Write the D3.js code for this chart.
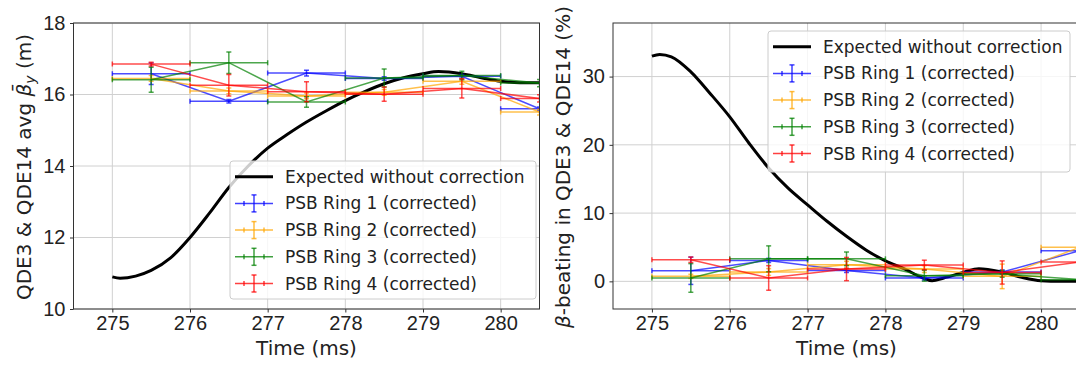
<!DOCTYPE html>
<html>
<head>
<meta charset="utf-8">
<script src="https://cdn.jsdelivr.net/npm/d3@7/dist/d3.min.js"></script>
<style>
  body { margin: 0; background: #fff; }
  svg { display: block; font-family: 'DejaVu Sans', sans-serif; }
  .axis text { font-size: 20px; fill: #222; }
  .axis line { stroke: #333; }
  .grid line { stroke: #d0d0d0; stroke-width: 1; }
  .frame { fill: none; stroke: #333; stroke-width: 1; }
  .label { font-size: 20px; fill: #222; }
  .legend text { font-size: 17px; fill: #222; }
</style>
</head>
<body>
<svg id="chart" width="1076" height="365"></svg>
<script>
// measurement bins (centre of each 1 ms window)
const timeCenters = [275.5, 276.5, 277.5, 278.5, 279.5, 280.5];
const timeHalfWidth = 0.5;

const ringNames = ['PSB Ring 1 (corrected)', 'PSB Ring 2 (corrected)', 'PSB Ring 3 (corrected)', 'PSB Ring 4 (corrected)'];
const ringColors = ['blue', 'orange', 'green', 'red'];
const expectedName = 'Expected without correction';

// left panel: average beta_y (m)
const betaRing1 = [16.58, 15.81, 16.60, 16.45, 16.51, 15.60];
const betaRing2 = [16.45, 16.10, 15.96, 16.06, 16.37, 15.51];
const betaRing3 = [16.41, 16.89, 15.79, 16.46, 16.53, 16.32];
const betaRing4 = [16.85, 16.26, 16.08, 16.01, 16.17, 15.89];
const betaErr1 = [0.30, 0.05, 0.08, 0.05, 0.05, 0.05];
const betaErr2 = [0.08, 0.08, 0.08, 0.08, 0.08, 0.08];
const betaErr3 = [0.35, 0.30, 0.15, 0.25, 0.12, 0.10];
const betaErr4 = [0.05, 0.30, 0.28, 0.20, 0.27, 0.10];

const expBetaTime = [275.0, 275.1, 275.3, 275.5, 275.75, 276.0, 276.25, 276.5, 276.75, 277.0, 277.25, 277.5,
  277.75, 278.0, 278.25, 278.5, 278.75, 279.0, 279.2, 279.5, 279.75, 280.0, 280.25, 280.5];
const expBeta = [10.90, 10.86, 10.92, 11.08, 11.43, 12.0, 12.68, 13.40, 14.0, 14.5, 14.88, 15.23,
  15.54, 15.83, 16.08, 16.30, 16.47, 16.58, 16.64, 16.58, 16.47, 16.37, 16.33, 16.33];

// right panel: beta-beating (%)
const beatRing1 = [1.55, 3.07, 1.60, 0.50, 1.37, 4.50];
const beatRing2 = [0.73, 1.37, 2.44, 1.80, 0.73, 5.00];
const beatRing3 = [0.50, 3.30, 3.30, 0.83, 1.10, 0.25];
const beatRing4 = [3.17, 0.50, 1.80, 2.40, 1.30, 2.85];
const beatErr1 = [2.0, 0.3, 0.3, 0.3, 0.3, 0.3];
const beatErr2 = [0.3, 0.5, 0.5, 0.5, 1.8, 0.3];
const beatErr3 = [2.1, 1.9, 1.0, 0.8, 0.5, 0.3];
const beatErr4 = [0.4, 1.8, 1.7, 0.7, 1.7, 0.3];

const expBeatTime = [275.0, 275.1, 275.25, 275.5, 275.75, 276.0, 276.25, 276.5, 276.75, 277.0, 277.25, 277.5,
  277.75, 278.0, 278.25, 278.5, 278.6, 278.75, 279.0, 279.2, 279.5, 279.75, 280.0, 280.25, 280.5];
const expBeat = [33.0, 33.25, 32.9, 30.7, 27.5, 24.1, 20.2, 16.6, 13.65, 11.2, 8.8, 6.6,
  4.6, 3.0, 1.8, 0.4, 0.1, 0.5, 1.3, 1.85, 1.35, 0.6, 0.1, 0.0, 0.0];

const timeTicks = [275, 276, 277, 278, 279, 280];

const svg = d3.select('#chart');

function createPanel(opts) {
  const x = d3.scaleLinear().domain([274.5, 280.5]).range([opts.left, opts.right]);
  const y = d3.scaleLinear().domain(opts.yDomain).range([opts.bottom, opts.top]);
  const g = svg.append('g');

  const clipId = 'clip-' + opts.id;
  svg.append('clipPath').attr('id', clipId)
    .append('rect')
    .attr('x', opts.left).attr('y', opts.top)
    .attr('width', opts.right - opts.left).attr('height', opts.bottom - opts.top);

  // grid
  const grid = g.append('g').attr('class', 'grid');
  grid.selectAll('.gx').data(timeTicks).enter().append('line')
    .attr('x1', d => x(d)).attr('x2', d => x(d))
    .attr('y1', opts.top).attr('y2', opts.bottom);
  grid.selectAll('.gy').data(opts.yTicks).enter().append('line')
    .attr('x1', opts.left).attr('x2', opts.right)
    .attr('y1', d => y(d)).attr('y2', d => y(d));

  const plot = g.append('g').attr('clip-path', `url(#${clipId})`);

  // expected curve
  plot.append('path')
    .datum(opts.expTime.map((t, i) => [t, opts.expValues[i]]))
    .attr('d', d3.line().x(d => x(d[0])).y(d => y(d[1])).curve(d3.curveMonotoneX))
    .attr('fill', 'none')
    .attr('stroke', '#000')
    .attr('stroke-width', 3);

  opts.series.forEach((s, i) => appendErrorSeries(plot, x, y, s.values, s.errs, ringColors[i]));

  // axes
  g.append('g')
    .attr('class', 'axis x')
    .attr('transform', `translate(0, ${ opts.bottom })`)
    .call(d3.axisBottom(x).tickValues(timeTicks).tickSize(3.5).tickPadding(3.5).tickFormat(d3.format('d')))
    .call(a => a.select('.domain').remove());

  g.append('g')
    .attr('class', 'axis y')
    .attr('transform', `translate(${ opts.left }, 0)`)
    .call(d3.axisLeft(y).tickValues(opts.yTicks).tickSize(3.5).tickPadding(4.5).tickFormat(d3.format('d')))
    .call(a => a.select('.domain').remove());

  g.append('rect').attr('class', 'frame')
    .attr('x', opts.left).attr('y', opts.top)
    .attr('width', opts.right - opts.left).attr('height', opts.bottom - opts.top);

  g.append('text').attr('class', 'label')
    .attr('x', (opts.left + Math.min(opts.right, 1076)) / 2 + opts.xLabelShift)
    .attr('y', 355)
    .attr('text-anchor', 'middle')
    .text('Time (ms)');

  appendLegend(g, opts.legend);
  return g;
}

function appendErrorSeries(plot, x, y, values, errs, color) {
  const s = plot.append('g')
    .attr('stroke', color)
    .attr('stroke-width', 1.5)
    .attr('stroke-opacity', 0.7)
    .attr('fill', 'none');
  const cap = 2.5;

  s.append('path')
    .datum(timeCenters.map((t, i) => [t, values[i]]))
    .attr('d', d3.line().x(d => x(d[0])).y(d => y(d[1])));

  timeCenters.forEach((t, i) => {
    const x0 = x(t - timeHalfWidth), x1 = x(t + timeHalfWidth), xc = x(t);
    const yc = y(values[i]), y0 = y(values[i] - errs[i]), y1 = y(values[i] + errs[i]);
    s.append('line').attr('x1', x0).attr('x2', x1).attr('y1', yc).attr('y2', yc);
    s.append('line').attr('x1', x0).attr('x2', x0).attr('y1', yc - cap).attr('y2', yc + cap);
    s.append('line').attr('x1', x1).attr('x2', x1).attr('y1', yc - cap).attr('y2', yc + cap);
    s.append('line').attr('x1', xc).attr('x2', xc).attr('y1', y0).attr('y2', y1);
    s.append('line').attr('x1', xc - cap).attr('x2', xc + cap).attr('y1', y0).attr('y2', y0);
    s.append('line').attr('x1', xc - cap).attr('x2', xc + cap).attr('y1', y1).attr('y2', y1);
  });
}

function appendLegend(g, box) {
  const legend = g.append('g').attr('class', 'legend');
  legend.append('rect')
    .attr('x', box.x).attr('y', box.y)
    .attr('width', box.w).attr('height', box.h)
    .attr('rx', 3)
    .attr('fill', '#fff').attr('fill-opacity', 0.8)
    .attr('stroke', '#cccccc').attr('stroke-width', 1);

  const rowH = 26.7;
  const hx0 = box.x + 5, hx1 = box.x + 43, hxc = (hx0 + hx1) / 2;
  const labels = [expectedName].concat(ringNames);

  labels.forEach((name, i) => {
    const cy = box.y + 15.7 + i * rowH;
    const row = legend.append('g');
    if (i === 0) {
      row.append('line').attr('x1', hx0).attr('x2', hx1).attr('y1', cy).attr('y2', cy)
        .attr('stroke', '#000').attr('stroke-width', 3);
    } else {
      const h = row.append('g').attr('stroke', ringColors[i - 1]).attr('stroke-width', 1.5).attr('stroke-opacity', 0.75);
      h.append('line').attr('x1', hx0).attr('x2', hx1).attr('y1', cy).attr('y2', cy);
      h.append('line').attr('x1', hxc).attr('x2', hxc).attr('y1', cy - 8.5).attr('y2', cy + 8.5);
      h.append('line').attr('x1', hxc - 2.5).attr('x2', hxc + 2.5).attr('y1', cy - 8.5).attr('y2', cy - 8.5);
      h.append('line').attr('x1', hxc - 2.5).attr('x2', hxc + 2.5).attr('y1', cy + 8.5).attr('y2', cy + 8.5);
      h.append('line').attr('x1', hxc - 10).attr('x2', hxc - 10).attr('y1', cy - 2.5).attr('y2', cy + 2.5);
      h.append('line').attr('x1', hxc + 10).attr('x2', hxc + 10).attr('y1', cy - 2.5).attr('y2', cy + 2.5);
    }
    row.append('text')
      .attr('x', box.x + 55)
      .attr('y', cy + 6)
      .text(name);
  });
}

createPanel({
  id: 'beta',
  left: 73.5, right: 539.5, top: 23, bottom: 309,
  yDomain: [10, 18], yTicks: [10, 12, 14, 16, 18],
  expTime: expBetaTime, expValues: expBeta,
  series: [
    { values: betaRing1, errs: betaErr1 },
    { values: betaRing2, errs: betaErr2 },
    { values: betaRing3, errs: betaErr3 },
    { values: betaRing4, errs: betaErr4 }
  ],
  legend: { x: 230, y: 161, w: 306, h: 138 },
  xLabelShift: 0
});

createPanel({
  id: 'beat',
  left: 613, right: 1080, top: 23, bottom: 309,
  yDomain: [-4.05, 37.85], yTicks: [0, 10, 20, 30],
  expTime: expBeatTime, expValues: expBeat,
  series: [
    { values: beatRing1, errs: beatErr1 },
    { values: beatRing2, errs: beatErr2 },
    { values: beatRing3, errs: beatErr3 },
    { values: beatRing4, errs: beatErr4 }
  ],
  legend: { x: 768, y: 31, w: 302, h: 141 },
  xLabelShift: 2
});

// y axis labels
const leftLabel = svg.append('text').attr('class', 'label')
  .attr('transform', 'translate(31, 167) rotate(-90)')
  .attr('text-anchor', 'middle');
leftLabel.append('tspan').text('QDE3 & QDE14 avg ');
leftLabel.append('tspan').attr('font-style', 'italic').text('\u03B2\u0304');
leftLabel.append('tspan').attr('font-style', 'italic').attr('font-size', '14px').attr('dy', 4).text('y');
leftLabel.append('tspan').attr('dy', -4).text(' (m)');

const rightLabel = svg.append('text').attr('class', 'label')
  .attr('transform', 'translate(570, 167) rotate(-90)')
  .attr('text-anchor', 'middle');
rightLabel.append('tspan').attr('font-style', 'italic').text('\u03B2');
rightLabel.append('tspan').text('-beating in QDE3 & QDE14 (%)');
</script>
</body>
</html>
